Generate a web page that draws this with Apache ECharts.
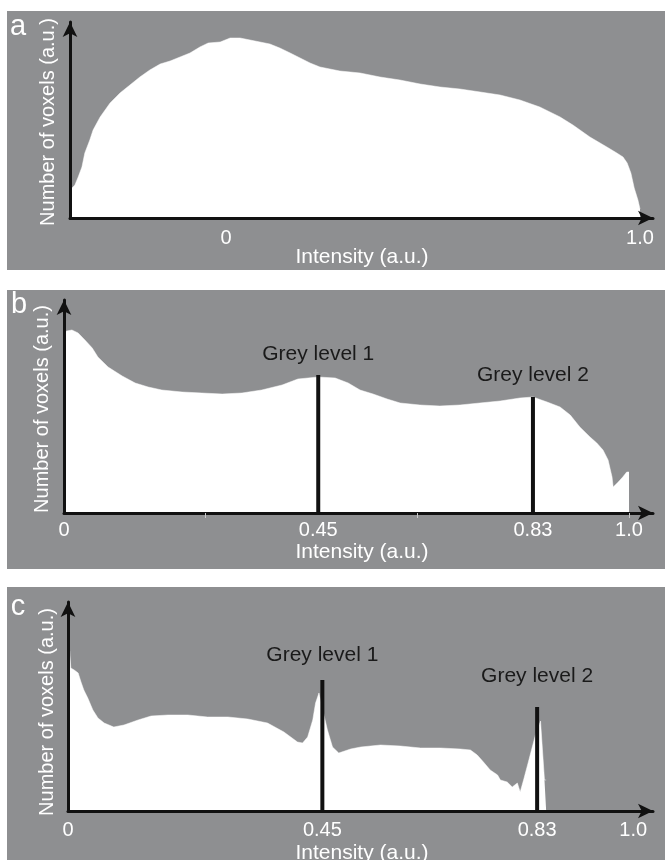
<!DOCTYPE html>
<html><head><meta charset="utf-8">
<script src="https://cdn.jsdelivr.net/npm/echarts@6/dist/echarts.min.js"></script>
<style>html,body{margin:0;padding:0;background:#fff}#c{width:665px;height:860px}</style>
</head><body><div id="c"></div>
<script>
// ---------- Panel a ----------
const intensityA = [-0.372,-0.365,-0.357,-0.348,-0.341,-0.329,-0.321,-0.304,-0.280,-0.256,-0.232,-0.208,-0.184,-0.159,-0.135,-0.111,-0.087,-0.063,-0.043,-0.014,0.010,0.034,0.058,0.082,0.106,0.130,0.155,0.179,0.203,0.227,0.251,0.275,0.300,0.324,0.372,0.420,0.469,0.517,0.565,0.614,0.662,0.710,0.758,0.807,0.838,0.879,0.920,0.944,0.959,0.969,0.978,0.986,0.995,1.0];
const countsA    = [30,33,41,51,65,78,88,101,115,125,133,141,148,154,157,161,165,171,175,176,180,180,178,176,174,170,165,160,155,151,149,147,146,145,141,138,134,131,129,126,123,118,111,101,93,81,71,65,61,55,45,30,18,9];
const tickValuesA = [0, 1.0];
const tickLabelsA = ['0', '1.0'];

// ---------- Panel b ----------
const intensityB = [0,0.005,0.014,0.025,0.037,0.050,0.060,0.078,0.103,0.126,0.149,0.173,0.209,0.244,0.280,0.315,0.350,0.386,0.414,0.450,0.480,0.503,0.524,0.547,0.572,0.595,0.630,0.665,0.701,0.736,0.772,0.807,0.830,0.855,0.878,0.896,0.913,0.931,0.943,0.954,0.963,0.970,0.972,0.981,0.989,0.996,1.0];
const countsB    = [181,182,183,180,173,165,156,146,137,130,126,123,121,120,119,120,123,128,134,136,135,130,123,119,114,110,108,107,108,110,112,115,116,111,106,98,86,76,70,63,53,36,26,31,36,41,41];
const greyLevelsB = [0.45, 0.83];
const greyHeightsB = [138, 116];
const tickValuesB = [0, 0.45, 0.83, 1.0];
const tickLabelsB = ['0', '0.45', '0.83', '1.0'];
const minorTicksB = [0.25, 0.625, 1.0];

// ---------- Panel c ----------
const intensityC = [0.003,0.005,0.011,0.018,0.023,0.028,0.035,0.044,0.053,0.064,0.081,0.099,0.124,0.147,0.177,0.212,0.247,0.283,0.318,0.353,0.382,0.406,0.415,0.424,0.433,0.438,0.444,0.452,0.459,0.468,0.479,0.500,0.518,0.553,0.588,0.624,0.659,0.694,0.712,0.724,0.735,0.747,0.760,0.765,0.777,0.786,0.795,0.800,0.806,0.814,0.820,0.827,0.836,0.843,0.846];
const countsC    = [160,143,141,138,129,121,113,101,93,88,84,86,91,95,96,96,94,94,92,88,79,69,68,74,91,108,118,98,81,64,58,62,64,66,65,63,63,62,61,56,49,41,36,31,29,24,28,19,31,48,61,76,90,31,31];
const greyLevelsC = [0.45, 0.83];
const greyHeightsC = [131, 104];
const tickValuesC = [0, 0.45, 0.83, 1.0];
const tickLabelsC = ['0', '0.45', '0.83', '1.0'];

// ---------- Texts ----------
const greyNames = ['Grey level 1', 'Grey level 2'];
const panelLetters = ['a', 'b', 'c'];
const xTitle = 'Intensity (a.u.)';
const yTitle = 'Number of voxels (a.u.)';

// ---------- Styling / layout ----------
const GREY = '#8e8f91';
const INK = '#111';
const FONT = '"Liberation Sans", Arial, sans-serif';
const layout = [
  {grid:{left:70,right:12,top:22,bottom:642}, xmin:-0.3768, xmax:1.0314, ymax:196, bg:[7,11,658,259], letter:[18,27], ytitle:[48,122], xtitle:[362,257], labelMargin:10},
  {grid:{left:64,right:12,top:300,bottom:347}, xmin:0, xmax:1.0425, ymax:213, bg:[7,290,658,279], letter:[19,305], ytitle:[42,409], xtitle:[362,552], labelMargin:7},
  {grid:{left:68,right:12,top:602,bottom:49}, xmin:0, xmax:1.035, ymax:209, bg:[7,587,658,273], letter:[18,607], ytitle:[47,712], xtitle:[362,853], labelMargin:9}
];
const labelDistB = [10, 11];
const labelDistC = [14, 20];

function fmt(values, labels) {
  return function (v) {
    for (let i = 0; i < values.length; i++) if (Math.abs(values[i] - v) < 1e-6) return labels[i];
    return '';
  };
}
const axisLineStyle = {show:true, onZero:false, symbol:['none','arrow'], symbolSize:[11,15], lineStyle:{color:INK, width:3}};

const xAxes = [], yAxes = [], graphics = [];
const tickSets = [[tickValuesA,tickLabelsA],[tickValuesB,tickLabelsB],[tickValuesC,tickLabelsC]];
layout.forEach((L, i) => {
  xAxes.push({
    type:'value', gridIndex:i, min:L.xmin, max:L.xmax, z:5,
    axisLine:axisLineStyle, splitLine:{show:false},
    axisTick: i === 1 ? {show:true, customValues:minorTicksB, length:5, inside:false, lineStyle:{color:'#c8c8c8', width:1}} : {show:false},
    axisLabel:{show:true, customValues:tickSets[i][0], formatter:fmt(tickSets[i][0], tickSets[i][1]), color:'#fff', fontSize:20, fontFamily:FONT, margin:L.labelMargin}
  });
  yAxes.push({
    type:'value', gridIndex:i, min:0, max:L.ymax, z:5,
    axisLine:axisLineStyle, splitLine:{show:false}, axisTick:{show:false}, axisLabel:{show:false}
  });
  graphics.push({type:'rect', z:-10, shape:{x:L.bg[0], y:L.bg[1], width:L.bg[2], height:L.bg[3]}, style:{fill:GREY}});
  graphics.push({type:'text', z:10, x:L.letter[0], y:L.letter[1], style:{text:panelLetters[i], fill:'#fff', font:'29px ' + FONT, align:'center', verticalAlign:'middle', textAlign:'center', textVerticalAlign:'middle'}});
  graphics.push({type:'text', z:10, x:L.ytitle[0], y:L.ytitle[1], rotation:Math.PI/2, style:{text:yTitle, fill:'#fff', font:'20px ' + FONT, align:'center', verticalAlign:'middle', textAlign:'center', textVerticalAlign:'middle'}});
  graphics.push({type:'text', z:10, x:L.xtitle[0], y:L.xtitle[1], style:{text:xTitle, fill:'#fff', font:'21px ' + FONT, align:'center', verticalAlign:'middle', textAlign:'center', textVerticalAlign:'middle'}});
});

function hist(xs, ys, idx) {
  return {type:'line', xAxisIndex:idx, yAxisIndex:idx, data:xs.map((x,k)=>[x, ys[k]]), symbol:'none', silent:true,
    lineStyle:{width:0.5, color:'#fff'}, areaStyle:{color:'#fff', opacity:1}, z:2};
}
function levels(xs, hs, dists, idx) {
  return {type:'bar', xAxisIndex:idx, yAxisIndex:idx, barWidth:4, silent:true, z:3,
    itemStyle:{color:INK},
    data:xs.map((x,k)=>({value:[x, hs[k]], label:{show:true, position:'top', distance:dists[k], formatter:greyNames[k], color:'#1a1a1a', fontSize:21, fontFamily:FONT}}))};
}

const chart = echarts.init(document.getElementById('c'), null, {renderer:'canvas'});
chart.setOption({
  animation:false,
  backgroundColor:'#fff',
  grid:layout.map(L => Object.assign({containLabel:false}, L.grid)),
  xAxis:xAxes, yAxis:yAxes,
  graphic:{elements:graphics},
  series:[
    hist(intensityA, countsA, 0),
    hist(intensityB, countsB, 1),
    levels(greyLevelsB, greyHeightsB, labelDistB, 1),
    hist(intensityC, countsC, 2),
    levels(greyLevelsC, greyHeightsC, labelDistC, 2)
  ]
});
</script></body></html>
